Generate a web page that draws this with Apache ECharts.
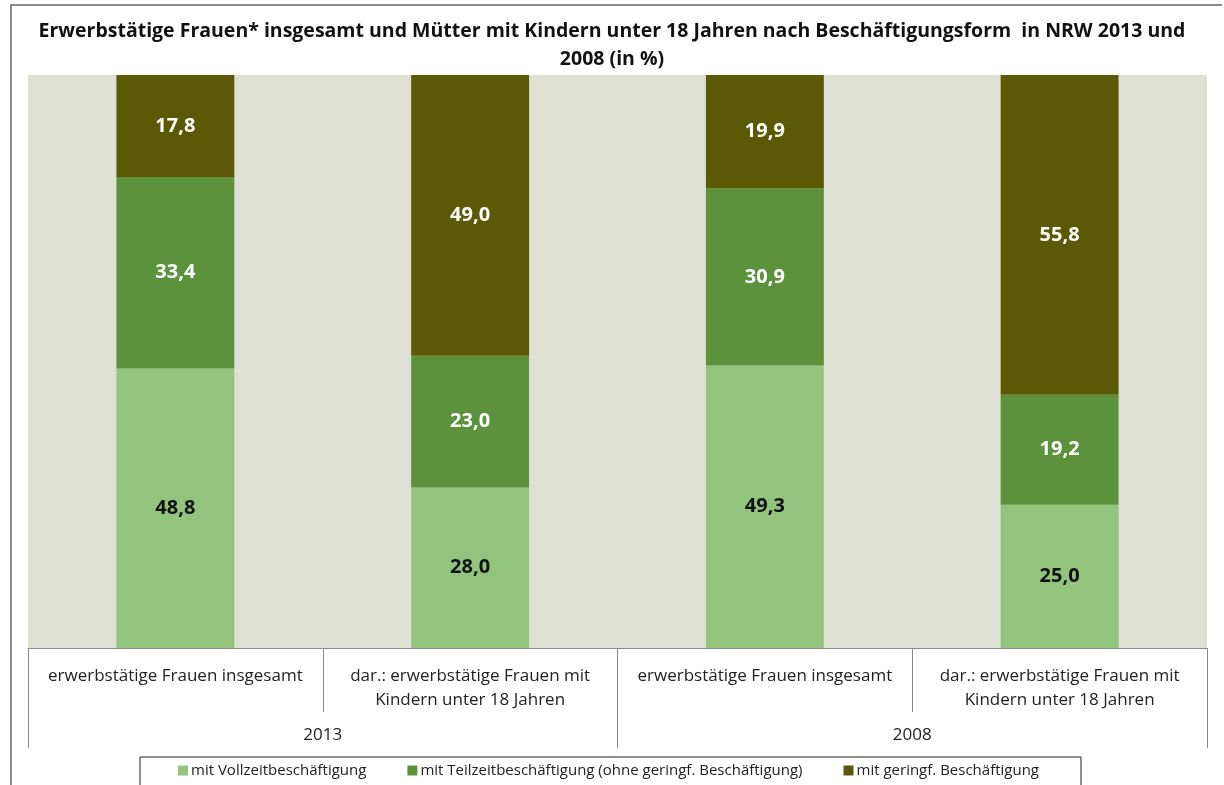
<!DOCTYPE html>
<html>
<head>
<meta charset="utf-8">
<script src="https://cdn.jsdelivr.net/npm/echarts@6/dist/echarts.min.js"></script>
<style>
  html, body { margin: 0; padding: 0; background: #fff; }
  #frame {
    position: absolute; left: 10px; top: 4px; width: 1210px; height: 800px;
    border-left: 2px solid #8a8a8a; border-top: 2px solid #8a8a8a;
  }
  #chart { position: absolute; left: 0; top: 0; width: 1224px; height: 785px; }
</style>
</head>
<body>
<div id="frame"></div>
<div id="chart"></div>
<script>
const categories = [
  'erwerbstätige Frauen insgesamt',
  'dar.: erwerbstätige Frauen mit\nKindern unter 18 Jahren',
  'erwerbstätige Frauen insgesamt',
  'dar.: erwerbstätige Frauen mit\nKindern unter 18 Jahren'
]
const years = ['2013', '2008']
const seriesNames = [
  'mit Vollzeitbeschäftigung',
  'mit Teilzeitbeschäftigung (ohne geringf. Beschäftigung)',
  'mit geringf. Beschäftigung'
]
const vollzeit = [48.8, 28.0, 49.3, 25.0]
const teilzeit = [33.4, 23.0, 30.9, 19.2]
const geringf = [17.8, 49.0, 19.9, 55.8]

const colors = ['#93c47d', '#5b923b', '#5c5906']
const labelColors = ['#111', '#fff', '#fff']
const fontFamily = '"Open Sans", "Noto Sans", sans-serif'

const chart = echarts.init(document.getElementById('chart'))

// Excel-Stil: Dezimalkomma
const fmt = (p) => p.value.toFixed(1).replace('.', ',')

const option = {
  backgroundColor: 'transparent',
  textStyle: { fontFamily: fontFamily },
  title: {
    text: 'Erwerbstätige Frauen* insgesamt und Mütter mit Kindern unter 18 Jahren nach Beschäftigungsform  in NRW 2013 und\n2008 (in %)',
    left: 'center',
    top: 12,
    textStyle: {
      fontFamily: fontFamily,
      fontSize: 19.5,
      fontWeight: 'bold',
      color: '#111',
      lineHeight: 28,
      align: 'center'
    }
  },
  legend: {
    left: 140,
    top: 757,
    itemWidth: 10,
    itemHeight: 10,
    itemGap: 41,
    icon: 'rect',
    borderColor: '#222',
    borderWidth: 1,
    padding: [6, 42, 9, 38],
    textStyle: { fontSize: 15, color: '#222', fontFamily: fontFamily, padding: [0, 0, 0, -2] },
    data: seriesNames
  },
  grid: {
    left: 28,
    right: 17,
    top: 75,
    bottom: 137,
    show: true,
    backgroundColor: '#dfe0d4',
    borderWidth: 0
  },
  xAxis: [
    {
      type: 'category',
      data: categories,
      axisLine: { show: true, lineStyle: { color: '#8a8a8a', width: 1 } },
      axisTick: { show: true, length: 64, interval: 0, lineStyle: { color: '#8a8a8a' } },
      axisLabel: {
        interval: 0,
        margin: 16,
        fontSize: 17,
        lineHeight: 24,
        color: '#222',
        fontFamily: fontFamily
      }
    },
    {
      type: 'category',
      data: years,
      position: 'bottom',
      axisLine: { show: false },
      axisTick: { show: true, length: 100, interval: 0, lineStyle: { color: '#8a8a8a' } },
      axisLabel: {
        interval: 0,
        margin: 79,
        fontSize: 17,
        color: '#222',
        fontFamily: fontFamily
      }
    }
  ],
  yAxis: {
    type: 'value',
    min: 0,
    max: 100,
    show: false,
    splitLine: { show: false }
  },
  series: [vollzeit, teilzeit, geringf].map((values, i) => ({
    name: seriesNames[i],
    type: 'bar',
    stack: 'total',
    xAxisIndex: 0,
    barWidth: '40%',
    data: values,
    itemStyle: { color: colors[i] },
    label: {
      show: true,
      position: 'inside',
      formatter: fmt,
      fontSize: 20,
      fontWeight: 'bold',
      color: labelColors[i],
      fontFamily: fontFamily
    }
  }))
}

chart.setOption(option)
</script>
</body>
</html>
